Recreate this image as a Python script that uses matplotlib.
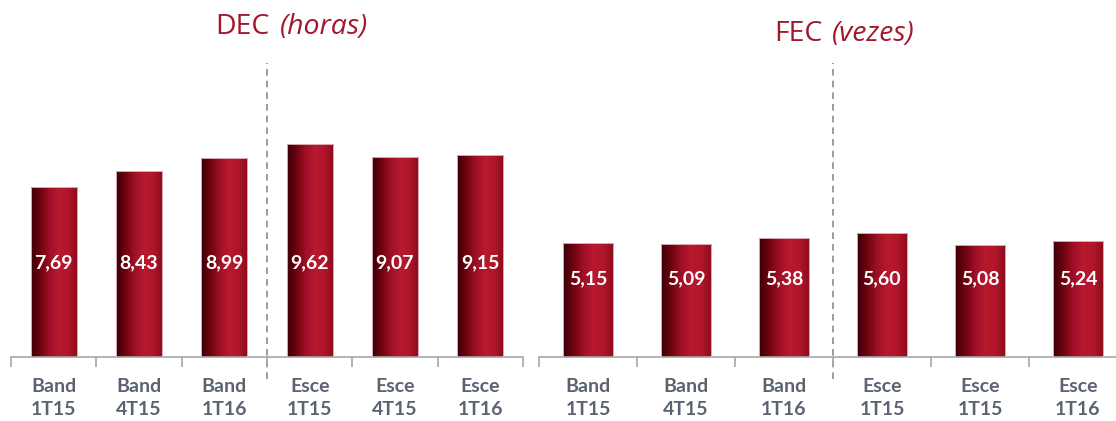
import matplotlib
matplotlib.use("Agg")
import matplotlib.pyplot as plt
import numpy as np
from matplotlib.colors import LinearSegmentedColormap

# data
dec_labels = ["Band\n1T15", "Band\n4T15", "Band\n1T16", "Esce\n1T15", "Esce\n4T15", "Esce\n1T16"]
dec_values = [7.69, 8.43, 8.99, 9.62, 9.07, 9.15]
fec_labels = ["Band\n1T15", "Band\n4T15", "Band\n1T16", "Esce\n1T15", "Esce\n1T15", "Esce\n1T16"]
fec_values = [5.15, 5.09, 5.38, 5.60, 5.08, 5.24]

title_red = "#a3182d"
label_grey = "#5b6372"
axis_grey = "#a6a6a6"

# cylinder look for the bars
cyl = LinearSegmentedColormap.from_list(
    "cyl", ["#3a0008", "#6e030e", "#9e1027", "#b8192e", "#b01629", "#8c0a1d"])
grad = np.linspace(0, 1, 256).reshape(1, -1)

fig = plt.figure(figsize=(11.16, 4.21), dpi=100)
W, H = 1116, 421


def draw_panel(rect, labels, values, width, label_y):
    ax = fig.add_axes(rect)
    x = np.arange(len(values))
    bars = ax.bar(x, values, width=width, color="none", edgecolor="#e9c9cd",
                  linewidth=0.6, zorder=3)
    for b in bars:
        x0, y0 = b.get_xy()
        im = ax.imshow(grad, cmap=cyl, extent=[x0, x0 + b.get_width(), y0, y0 + b.get_height()],
                       aspect="auto", zorder=2, interpolation="bilinear")
        im.set_clip_path(b)
    for xi, v in zip(x, values):
        ax.text(xi, label_y, f"{v:.2f}".replace(".", ","), ha="center", va="center",
                color="white", fontsize=14, fontweight="bold", family="Lato", zorder=4)
    ax.set_xlim(-0.5, len(values) - 0.5)
    ax.set_ylim(0, 13.3)
    ax.set_yticks([])
    for s in ["top", "right", "left"]:
        ax.spines[s].set_visible(False)
    ax.spines["bottom"].set_color(axis_grey)
    ax.spines["bottom"].set_linewidth(1.2)
    ax.set_xticks(np.arange(-0.5, len(values)))
    ax.set_xticklabels([])
    ax.set_xticks(x, labels, minor=True)
    ax.tick_params(axis="x", which="major", length=7, width=1.2, color=axis_grey)
    ax.tick_params(axis="x", which="minor", length=0, pad=15)
    for t in ax.get_xticklabels(minor=True):
        t.set_fontsize(14)
        t.set_fontweight("bold")
        t.set_family("Lato")
        t.set_color(label_grey)
        t.set_linespacing(1.45)
    # dashed separator between Band and Esce
    ax.plot([2.5, 2.5], [-0.075, 1.0], transform=ax.get_xaxis_transform(),
            color="#8c8c8c", linestyle=(0, (4, 3)), linewidth=1.2, clip_on=False, zorder=1)
    return ax


ax1 = draw_panel([11 / W, 64 / H, 512 / W, 294 / H], dec_labels, dec_values, 0.54, 4.25)
ax2 = draw_panel([539 / W, 64 / H, 588 / W, 294 / H], fec_labels, fec_values, 0.52, 3.55)

# titles: upright name + italic unit
fig.text(270 / W, 1 - 27 / H, "DEC", ha="right", va="center", color=title_red,
         fontsize=20.5, family="Open Sans")
fig.text(280 / W, 1 - 27 / H, "(horas)", ha="left", va="center", color=title_red,
         fontsize=20.5, family="Open Sans", style="italic")
fig.text(823 / W, 1 - 34 / H, "FEC", ha="right", va="center", color=title_red,
         fontsize=20.5, family="Open Sans")
fig.text(832 / W, 1 - 34 / H, "(vezes)", ha="left", va="center", color=title_red,
         fontsize=20.5, family="Open Sans", style="italic")

fig.savefig("out.png", dpi=100)
